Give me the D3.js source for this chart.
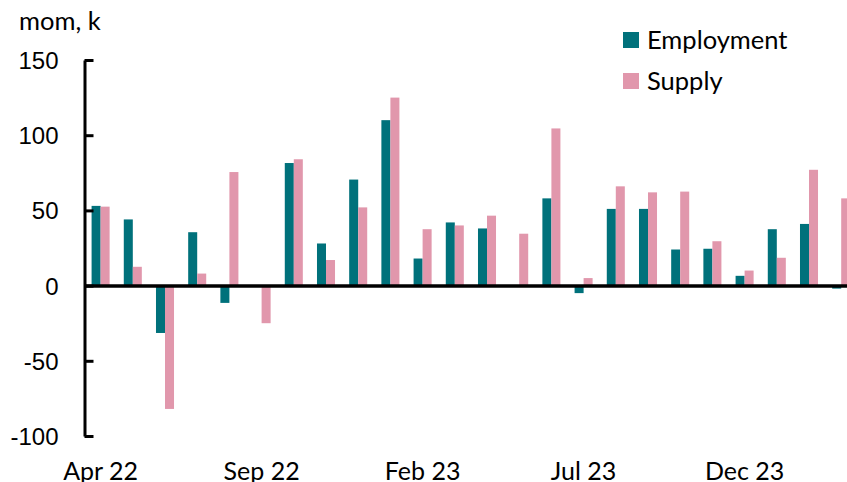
<!DOCTYPE html>
<html>
<head>
<meta charset="utf-8">
<script src="https://cdn.jsdelivr.net/npm/d3@7"></script>
<style>
  html, body { margin: 0; padding: 0; background: #fff; overflow: hidden; }
  svg { display: block; font-family: Lato, "Open Sans", sans-serif; }
</style>
</head>
<body>
<svg id="chart" width="847" height="482"></svg>
<script>
// Monthly change, thousands
const months = ["Apr 22","May 22","Jun 22","Jul 22","Aug 22","Sep 22","Oct 22","Nov 22","Dec 22",
  "Jan 23","Feb 23","Mar 23","Apr 23","May 23","Jun 23","Jul 23","Aug 23","Sep 23","Oct 23",
  "Nov 23","Dec 23","Jan 24","Feb 24","Mar 24"];
const employment = [53, 44, -31.5, 35.5, -11.5, 0, 81.5, 28, 70.5, 110, 18, 42, 38, 0, 58, -5,
  51, 51, 24, 24.5, 6.5, 37.5, 41, -2];
const supply = [52.5, 12.5, -82, 8, 75.5, -25, 84, 17, 52, 125, 37.5, 40, 46.5, 34.5, 104.5, 5,
  66, 62, 62.5, 29.5, 10, 18.5, 77, 58];
const yTicks = [-100, -50, 0, 50, 100, 150];
const xTickLabels = ["Apr 22", "Sep 22", "Feb 23", "Jul 23", "Dec 23"];
const seriesNames = ["Employment", "Supply"];
const colors = ["#00717b", "#e197ac"];

const svg = d3.select("#chart");
const left = 84.5, step = 32.2;

const x = d3.scaleBand()
  .domain(months)
  .range([left, left + step * months.length])
  .paddingInner(0.44)
  .paddingOuter(0.22);

const xSub = d3.scaleBand()
  .domain(seriesNames)
  .range([0, x.bandwidth()]);

const y = d3.scaleLinear().domain([-100, 150]).range([436, 60]);

const rows = months.map((m, i) => ({ month: m, values: [employment[i], supply[i]] }));

// bars
const groups = svg.append("g").selectAll("g")
  .data(rows).join("g")
  .attr("transform", d => `translate(${x(d.month)},0)`);

groups.selectAll("rect")
  .data(d => d.values.map((v, k) => ({ v, k })))
  .join("rect")
  .attr("x", d => xSub(seriesNames[d.k]))
  .attr("width", xSub.bandwidth())
  .attr("y", d => y(Math.max(0, d.v)))
  .attr("height", d => Math.abs(y(d.v) - y(0)))
  .attr("fill", d => colors[d.k]);

// y axis with inward ticks
const yAxis = svg.append("g")
  .attr("transform", `translate(${left},0)`)
  .call(d3.axisLeft(y).tickValues(yTicks).tickSizeInner(-9).tickSizeOuter(0).tickPadding(0));
yAxis.select(".domain").attr("stroke", "#000").attr("stroke-width", 3);
yAxis.selectAll(".tick line").attr("stroke", "#000").attr("stroke-width", 3);
yAxis.selectAll(".tick text").remove();
yAxis.selectAll(".tick").append("text")
  .attr("x", -26)
  .attr("dy", "0.35em")
  .attr("text-anchor", "end")
  .attr("fill", "#000")
  .style("font-size", "24px")
  .text(d => d);

// zero line (category axis)
const xAxis = svg.append("g")
  .attr("transform", `translate(0,${y(0)})`)
  .call(d3.axisBottom(x).tickValues([]).tickSizeOuter(0));
xAxis.select(".domain").attr("stroke", "#000").attr("stroke-width", 3.5);

// category labels every five months
svg.append("g").selectAll("text")
  .data(xTickLabels).join("text")
  .attr("x", d => x(d) + x.bandwidth() / 2)
  .attr("y", 480)
  .attr("text-anchor", "middle")
  .style("font-size", "25px")
  .attr("fill", "#000")
  .text(d => d);

// unit label
svg.append("text")
  .attr("x", 19).attr("y", 30)
  .style("font-size", "25.5px")
  .attr("fill", "#000")
  .text("mom, k");

// legend
const legend = svg.append("g").selectAll("g")
  .data(seriesNames).join("g")
  .attr("transform", (d, i) => `translate(623,${32 + i * 41})`);
legend.append("rect").attr("width", 16).attr("height", 16).attr("fill", (d, i) => colors[i]);
legend.append("text")
  .attr("x", 24).attr("y", 8).attr("dy", "0.35em")
  .style("font-size", "25.5px")
  .attr("fill", "#000")
  .text(d => d);
</script>
</body>
</html>
